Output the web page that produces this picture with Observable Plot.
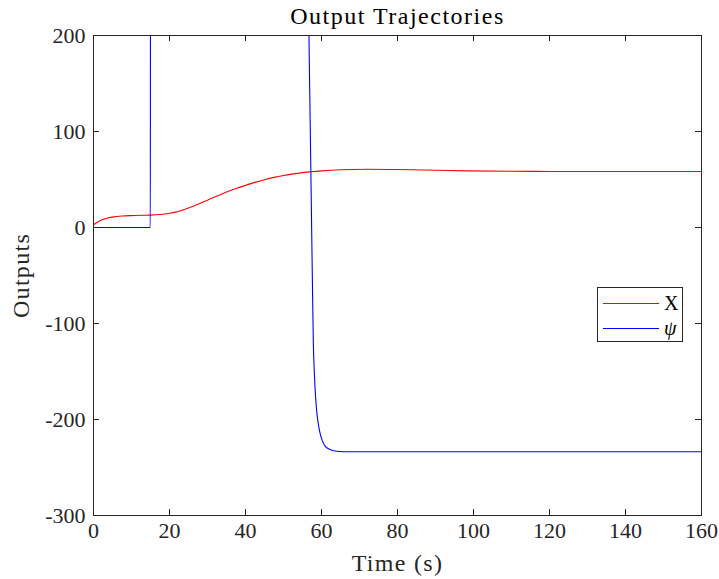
<!DOCTYPE html>
<html>
<head>
<meta charset="utf-8">
<script src="https://cdn.jsdelivr.net/npm/d3@7"></script>
<script src="https://cdn.jsdelivr.net/npm/@observablehq/plot@0.6"></script>
<style>
  html, body { margin: 0; padding: 0; background: #fff; }
  #wrap { position: relative; width: 719px; height: 579px; }
  .legend { position: absolute; left: 597px; top: 287px; width: 84px; height: 53px;
    border: 1px solid #262626; background: #fff; box-sizing: content-box;
    font-family: "Liberation Serif", serif; font-size: 20px; color: #000; }
  .legend .row { position: absolute; left: 5px; height: 20px; width: 80px; }
  .legend .sw { position: absolute; left: 0; top: 10px; width: 56px; height: 0; border-top: 1.3px solid; }
  .legend .lab { position: absolute; left: 61px; top: -2px; line-height: 24px; }
</style>
</head>
<body>
<div id="wrap"></div>
<script>
// ---- data ----
const title = "Output Trajectories";
const xLabel = "Time (s)";
const yLabel = "Outputs";
const xTicks = [0, 20, 40, 60, 80, 100, 120, 140, 160];
const yTicks = [-300, -200, -100, 0, 100, 200];
const seriesNames = ["X", "ψ"];
const seriesColors = ["#ff0000", "#0000ff"];

// X output
const tX = [0, 1, 2, 3.5, 5, 7.5, 10, 12.5, 15, 17.5, 20, 22.5, 25, 27.5, 30, 32.5, 35, 37.5, 40, 42.5, 45, 47.5, 50, 52.5, 55, 57.5, 60, 65, 72, 80, 90, 98.4, 110, 120, 140, 160];
const vX = [2.8, 5.5, 7.6, 9.6, 10.8, 11.9, 12.4, 12.7, 12.9, 13.5, 14.8, 17, 20.3, 24.2, 28.5, 32.8, 37, 40.6, 43.9, 47, 49.8, 52.2, 54.2, 55.9, 57.2, 58.2, 59, 60.1, 60.6, 60.4, 59.7, 59, 58.6, 58.4, 58.3, 58.3];

// psi output (values above 200 lie outside the visible range)
const tPsi = [0, 14.95, 15, 56.45, 56.7, 57.0, 57.3, 57.6, 57.85, 58.1, 58.3, 58.7, 59.1, 59.6, 60.2, 61, 62.4, 64, 68, 160];
const vPsi = [0, 0, 280, 280, 200, 115, 30, -55, -120, -150, -167, -190, -203, -214, -222, -228, -231.5, -233, -233.6, -233.6];

const rowsX = tX.map((t, i) => ({t, v: vX[i], s: seriesNames[0]}));
const rowsPsi = tPsi.map((t, i) => ({t, v: vPsi[i], s: seriesNames[1]}));

const axisColor = "#262626";
const font = "Liberation Serif, serif";
const fmt = d => String(d);
const W = 719, H = 579, mT = 35, mL = 93, mR = 18, mB = 64;
const tickLen = 6;
const frameW = W - mL - mR, frameH = H - mT - mB;

const chart = Plot.plot({
  width: W,
  height: H,
  marginTop: mT,
  marginLeft: mL,
  marginRight: mR,
  marginBottom: mB,
  style: {fontFamily: font, fontSize: "22px", color: axisColor, background: "#fff"},
  x: {domain: [0, 160], ticks: xTicks, label: null},
  y: {domain: [-300, 200], ticks: yTicks, label: null},
  marks: [
    Plot.line(rowsX, {x: "t", y: "v", stroke: seriesColors[0], strokeWidth: 1.1, curve: "monotone-x", clip: true}),
    Plot.line(rowsPsi, {x: "t", y: "v", stroke: seriesColors[1], strokeWidth: 1.1, curve: "monotone-x", clip: true}),
    Plot.frame({stroke: axisColor, strokeWidth: 1}),
    Plot.axisX(xTicks, {anchor: "bottom", tickSize: 0, tickPadding: 7, tickFormat: fmt, label: null, fontSize: 22, fill: axisColor}),
    Plot.axisY(yTicks, {anchor: "left", tickSize: 0, tickPadding: 8, tickFormat: fmt, label: null, fontSize: 22, fill: axisColor}),
    // inward ticks on all four sides
    Plot.ruleX(xTicks, {x: d => d, insetTop: frameH - tickLen, stroke: axisColor}),
    Plot.ruleX(xTicks, {x: d => d, insetBottom: frameH - tickLen, stroke: axisColor}),
    Plot.ruleY(yTicks, {y: d => d, insetRight: frameW - tickLen, stroke: axisColor}),
    Plot.ruleY(yTicks, {y: d => d, insetLeft: frameW - tickLen, stroke: axisColor}),
    Plot.text([title], {text: d => d, frameAnchor: "top", lineAnchor: "middle", textAnchor: "middle", dy: -19, fontSize: 24, fill: "#000"}),
    Plot.text([xLabel], {text: d => d, frameAnchor: "bottom", lineAnchor: "middle", textAnchor: "middle", dy: 48, fontSize: 24, fill: axisColor}),
    Plot.text([yLabel], {text: d => d, frameAnchor: "left", lineAnchor: "middle", textAnchor: "middle", dx: -72, rotate: -90, fontSize: 24, fill: axisColor})
  ]
});

// widen the label text a little (Computer Modern is wider than Times)
d3.select(chart).selectAll("text").each(function() {
  const t = this.textContent;
  if (t === title) this.style.letterSpacing = "1.5px";
  if (t === xLabel || t === yLabel) this.style.letterSpacing = "1.3px";
});

const wrap = document.getElementById("wrap");
wrap.appendChild(chart);

// legend
const legend = document.createElement("div");
legend.className = "legend";
seriesNames.forEach((name, i) => {
  const row = document.createElement("div");
  row.className = "row";
  row.style.top = (5 + i * 25) + "px";
  const sw = document.createElement("div");
  sw.className = "sw";
  sw.style.borderTopColor = seriesColors[i];
  const lab = document.createElement("div");
  lab.className = "lab";
  lab.textContent = name;
  if (name === "ψ") lab.style.fontStyle = "italic";
  row.appendChild(sw);
  row.appendChild(lab);
  legend.appendChild(row);
});
wrap.appendChild(legend);
</script>
</body>
</html>
